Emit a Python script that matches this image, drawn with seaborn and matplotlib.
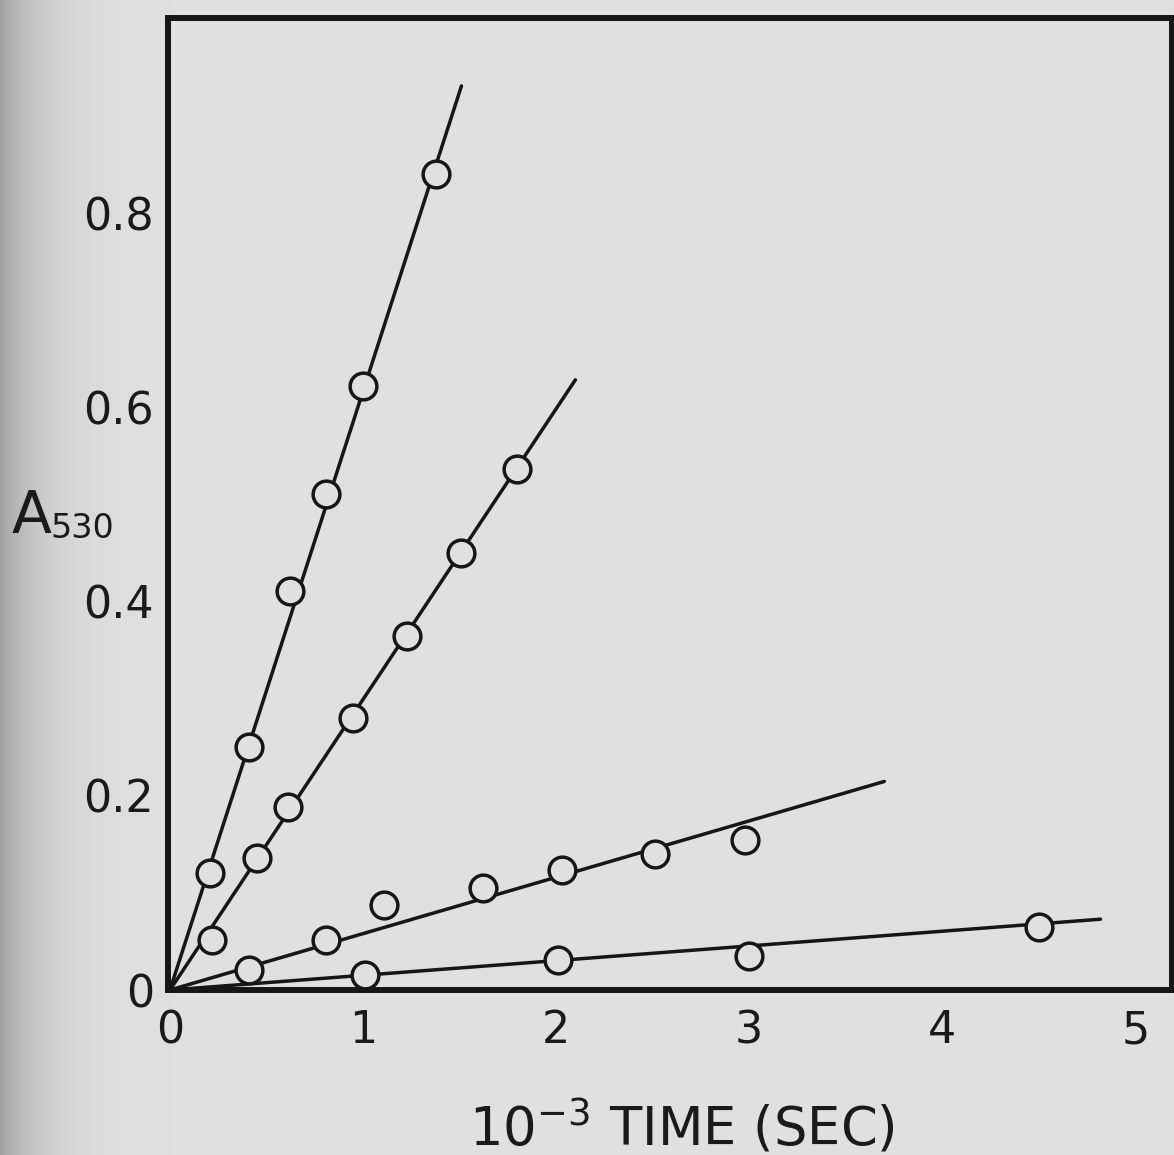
import numpy as np
import pandas as pd
import matplotlib
matplotlib.use("Agg")
import matplotlib.pyplot as plt
import seaborn as sns

# ---- data ----
s1_x = [0.21, 0.41, 0.62, 0.81, 1.00, 1.38]
s1_y = [0.121, 0.250, 0.411, 0.511, 0.623, 0.841]
s2_x = [0.22, 0.45, 0.61, 0.95, 1.23, 1.51, 1.80]
s2_y = [0.052, 0.136, 0.189, 0.280, 0.365, 0.450, 0.537]
s3_x = [0.81, 1.11, 1.62, 2.03, 2.51, 2.98]
s3_y = [0.052, 0.088, 0.105, 0.124, 0.140, 0.155]
s4_x = [0.41, 1.01, 2.01, 3.00, 4.50]
s4_y = [0.021, 0.015, 0.031, 0.035, 0.065]

# fitted lines: from origin to end point
line_end_x = [1.51, 2.10, 3.70, 4.82]
line_end_y = [0.932, 0.629, 0.215, 0.073]

x_ticks = [0, 1, 2, 3, 4, 5]
x_ticklabels = ["0", "1", "2", "3", "4", "5"]
y_ticks = [0, 0.2, 0.4, 0.6, 0.8]
y_ticklabels = ["0", "0.2", "0.4", "0.6", "0.8"]

sns.set_theme(style="white")
plt.rcParams["font.family"] = ["DejaVu Sans"]

paper = "#e0e0e0"
ink = "#161616"
fig = plt.figure(figsize=(11.74, 11.55), dpi=100, facecolor=paper)

# background with darker left edge (scan shading)
bg = fig.add_axes([0, 0, 1, 1], zorder=-10)
xs = np.arange(1174)
prof = 224 - 62 * np.exp(-xs / 40.0)
img = np.tile(prof, (10, 1)) / 255.0
bg.imshow(img, cmap="gray", vmin=0, vmax=1, aspect="auto", extent=[0, 1, 0, 1])
bg.set_axis_off()

ax = fig.add_axes([168 / 1174, 1 - 990 / 1155, (1172 - 168) / 1174, (990 - 18) / 1155])
ax.set_facecolor(paper)
ax.patch.set_alpha(0.0)

pts = pd.concat([
    pd.DataFrame({"x": s1_x, "y": s1_y, "s": "a"}),
    pd.DataFrame({"x": s2_x, "y": s2_y, "s": "b"}),
    pd.DataFrame({"x": s3_x, "y": s3_y, "s": "c"}),
    pd.DataFrame({"x": s4_x, "y": s4_y, "s": "d"}),
], ignore_index=True)

lines = pd.concat([
    pd.DataFrame({"x": [0, ex], "y": [0, ey], "s": k})
    for k, ex, ey in zip("abcd", line_end_x, line_end_y)
], ignore_index=True)

for k in "abcd":
    d = lines[lines.s == k]
    sns.lineplot(data=d, x="x", y="y", ax=ax, color=ink, linewidth=2.5,
                 estimator=None, sort=False, zorder=2)

sns.scatterplot(data=pts, x="x", y="y", ax=ax, marker="o", s=370,
                facecolor=paper, edgecolor=ink, linewidth=2.5, zorder=3)

ax.set_xlim(-0.01, 5.19)
ax.set_ylim(0, 1.002)
ax.set_xticks(x_ticks)
ax.set_xticklabels(x_ticklabels)
ax.set_yticks(y_ticks)
ax.set_yticklabels(y_ticklabels)
ax.tick_params(axis="both", direction="in", length=14, width=3, color=ink,
               labelsize=32, labelcolor="#1a1a1a")
ax.tick_params(axis="x", pad=14)
ax.tick_params(axis="y", pad=10)
ax.set_xlabel("")
ax.set_ylabel("")
for side, sp in ax.spines.items():
    sp.set_visible(True)
    sp.set_color(ink)
    sp.set_linewidth(4.3)

fig.text(682 / 1174, 1 - 1127 / 1155, r"10$^{\mathregular{-3}}$ TIME (SEC)",
         ha="center", va="center", fontsize=38, color="#1a1a1a")
fig.text(12 / 1174, 1 - 533 / 1155, "A",
         ha="left", va="baseline", fontsize=42, color="#1a1a1a")
fig.text(50 / 1174, 1 - 538 / 1155, "530",
         ha="left", va="baseline", fontsize=24, color="#1a1a1a")

fig.savefig("out.png", dpi=100, facecolor=paper)
